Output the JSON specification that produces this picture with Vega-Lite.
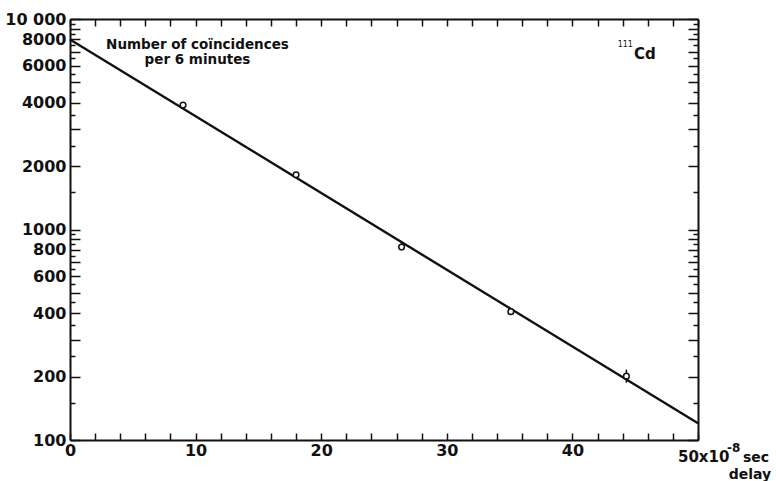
{
  "$schema": "https://vega.github.io/schema/vega-lite/v6.json",
  "width": 628,
  "height": 421,
  "autosize": "none",
  "padding": {"left": 70, "top": 19, "right": 78, "bottom": 41},
  "background": "white",
  "config": {
    "view": {"stroke": null},
    "axis": {
      "labelFont": "DejaVu Sans",
      "labelFontWeight": "bold",
      "labelFontSize": 16,
      "labelColor": "#111",
      "domainColor": "#111",
      "tickColor": "#111",
      "domainWidth": 2,
      "tickWidth": 1.5,
      "grid": false,
      "title": null,
      "labelOverlap": false,
      "labelFlush": false,
      "labelBound": false
    },
    "text": {"font": "DejaVu Sans", "fontWeight": "bold", "color": "#111"}
  },
  "datasets": {
    "pts": [
      {"delay": 9, "count": 3900},
      {"delay": 18, "count": 1820},
      {"delay": 26.4, "count": 825},
      {"delay": 35.1, "count": 407},
      {"delay": 44.3, "count": 201}
    ],
    "err": [
      {"delay": 26.4, "lo": 800, "hi": 870},
      {"delay": 35.1, "lo": 392, "hi": 424},
      {"delay": 44.3, "lo": 187, "hi": 216}
    ],
    "fit": [
      {"delay": 0, "count": 8000},
      {"delay": 50, "count": 120}
    ],
    "one": [{}]
  },
  "layer": [
    {
      "data": {"name": "fit"},
      "mark": {"type": "line", "color": "#111", "strokeWidth": 2.4},
      "encoding": {
        "x": {
          "field": "delay", "type": "quantitative",
          "scale": {"domain": [0, 50], "nice": false, "zero": false},
          "axis": {
            "orient": "top", "labels": false, "tickSize": -7,
            "values": [0,2,4,6,8,10,12,14,16,18,20,22,24,26,28,30,32,34,36,38,40,42,44,46,48,50]
          }
        },
        "y": {
          "field": "count", "type": "quantitative",
          "scale": {"type": "log", "domain": [100, 10000], "nice": false},
          "axis": {
            "orient": "right", "labels": false,
            "tickSize": {"condition": {"test": "indexof([100,200,300,400,500,600,700,800,900,1000,2000,3000,4000,5000,6000,7000,8000,9000,10000], datum.value) >= 0", "value": -10}, "value": -5},
            "values": [100,150,200,250,300,350,400,450,500,550,600,650,700,750,800,850,900,950,1000,1500,2000,2500,3000,3500,4000,4500,5000,5500,6000,6500,7000,7500,8000,8500,9000,9500,10000]
          }
        }
      }
    },
    {
      "data": {"name": "err"},
      "mark": {"type": "rule", "color": "#111", "strokeWidth": 1.5},
      "encoding": {
        "x": {"field": "delay", "type": "quantitative", "axis": null},
        "y": {"field": "lo", "type": "quantitative", "axis": null},
        "y2": {"field": "hi"}
      }
    },
    {
      "data": {"name": "pts"},
      "mark": {"type": "point", "shape": "circle", "filled": true, "fill": "white", "stroke": "#111", "strokeWidth": 1.5, "size": 32, "opacity": 1},
      "encoding": {
        "x": {
          "field": "delay", "type": "quantitative",
          "axis": {
            "orient": "bottom", "tickSize": -7, "labelPadding": 9,
            "values": [0,2,4,6,8,10,12,14,16,18,20,22,24,26,28,30,32,34,36,38,40,42,44,46,48,50],
            "labelExpr": "(datum.value % 10 == 0 && datum.value < 50) ? '' + datum.value : ''"
          }
        },
        "y": {
          "field": "count", "type": "quantitative",
          "axis": {
            "orient": "left", "labelPadding": 14,
            "tickSize": {"condition": {"test": "indexof([100,200,300,400,500,600,700,800,900,1000,2000,3000,4000,5000,6000,7000,8000,9000,10000], datum.value) >= 0", "value": -10}, "value": -5},
            "values": [100,150,200,250,300,350,400,450,500,550,600,650,700,750,800,850,900,950,1000,1500,2000,2500,3000,3500,4000,4500,5000,5500,6000,6500,7000,7500,8000,8500,9000,9500,10000],
            "labelExpr": "datum.value == 10000 ? '10 000' : (indexof([100,200,400,600,800,1000,2000,4000,6000,8000], datum.value) >= 0 ? '' + datum.value : '')"
          }
        }
      }
    },
    {
      "data": {"name": "one"},
      "mark": {"type": "text", "text": ["Number of coïncidences", "per 6 minutes"], "fontSize": 13.5, "lineHeight": 15, "align": "center", "baseline": "top"},
      "encoding": {
        "x": {"datum": 10.15, "type": "quantitative", "axis": null},
        "y": {"datum": 8100, "type": "quantitative", "axis": null}
      }
    },
    {
      "data": {"name": "one"},
      "mark": {"type": "text", "text": "111", "fontSize": 8, "fontWeight": "normal", "align": "right", "baseline": "middle", "dx": -1},
      "encoding": {
        "x": {"datum": 44.9, "type": "quantitative", "axis": null},
        "y": {"datum": 7500, "type": "quantitative", "axis": null}
      }
    },
    {
      "data": {"name": "one"},
      "mark": {"type": "text", "text": "Cd", "fontSize": 15, "align": "left", "baseline": "middle"},
      "encoding": {
        "x": {"datum": 44.9, "type": "quantitative", "axis": null},
        "y": {"datum": 6820, "type": "quantitative", "axis": null}
      }
    },
    {
      "data": {"name": "one"},
      "mark": {"type": "text", "text": "50x10", "fontSize": 15, "align": "left", "baseline": "middle", "dx": -20, "dy": 17},
      "encoding": {
        "x": {"datum": 50, "type": "quantitative", "axis": null},
        "y": {"datum": 100, "type": "quantitative", "axis": null}
      }
    },
    {
      "data": {"name": "one"},
      "mark": {"type": "text", "text": "-8", "fontSize": 12, "align": "left", "baseline": "middle", "dx": 29, "dy": 8},
      "encoding": {
        "x": {"datum": 50, "type": "quantitative", "axis": null},
        "y": {"datum": 100, "type": "quantitative", "axis": null}
      }
    },
    {
      "data": {"name": "one"},
      "mark": {"type": "text", "text": "sec", "fontSize": 14, "align": "left", "baseline": "middle", "dx": 45, "dy": 18},
      "encoding": {
        "x": {"datum": 50, "type": "quantitative", "axis": null},
        "y": {"datum": 100, "type": "quantitative", "axis": null}
      }
    },
    {
      "data": {"name": "one"},
      "mark": {"type": "text", "text": "delay", "fontSize": 14, "align": "center", "baseline": "middle", "dx": 52, "dy": 35},
      "encoding": {
        "x": {"datum": 50, "type": "quantitative", "axis": null},
        "y": {"datum": 100, "type": "quantitative", "axis": null}
      }
    }
  ],
  "resolve": {"axis": {"x": "independent", "y": "independent"}}
}
